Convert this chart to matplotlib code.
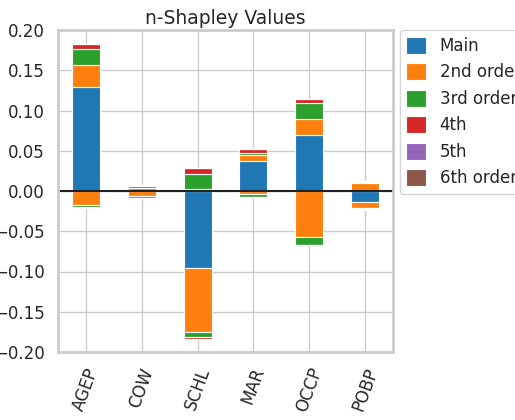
import numpy as np
import matplotlib
matplotlib.use("Agg")
import matplotlib.pyplot as plt
import seaborn as sns

sns.set_theme(style="whitegrid")

features = ["AGEP", "COW", "SCHL", "MAR", "OCCP", "POBP"]
orders = ["Main", "2nd order", "3rd order", "4th", "5th", "6th order"]

# positive and negative parts per order (rows = order, cols = feature)
pos_vals = [
    [0.129, 0.000, 0.000, 0.0375, 0.070, 0.000],
    [0.027, 0.004, 0.002, 0.0075, 0.020, 0.010],
    [0.020, 0.002, 0.019, 0.002, 0.019, 0.001],
    [0.0065, 0.001, 0.0075, 0.005, 0.005, 0.001],
    [0.000, 0.000, 0.000, 0.000, 0.000, 0.000],
    [0.000, 0.000, 0.000, 0.000, 0.000, 0.000],
]
neg_vals = [
    [0.000, 0.000, -0.096, 0.000, 0.000, -0.0135],
    [-0.0175, -0.006, -0.079, -0.004, -0.0575, -0.0075],
    [-0.002, -0.003, -0.0065, -0.004, -0.009, -0.0015],
    [-0.002, 0.000, -0.002, 0.000, 0.000, -0.0015],
    [0.000, 0.000, 0.000, 0.000, 0.000, 0.000],
    [0.000, 0.000, 0.000, 0.000, 0.000, 0.000],
]
colors = ["tab:blue", "tab:orange", "tab:green", "tab:red", "tab:purple", "tab:brown"]

fig = plt.figure(figsize=(5.15, 4.2), dpi=100)
ax = fig.add_axes([58 / 515, 1 - 352 / 420, 335 / 515, 322 / 420])
x = np.arange(len(features))
pos_bottom = np.zeros(len(features))
neg_bottom = np.zeros(len(features))
for name, p, n, c in zip(orders, pos_vals, neg_vals, colors):
    p = np.array(p)
    n = np.array(n)
    ax.bar(x, p, 0.5, bottom=pos_bottom, color=c, edgecolor="white", linewidth=0.8, label=name)
    ax.bar(x, n, 0.5, bottom=neg_bottom, color=c, edgecolor="white", linewidth=0.8)
    pos_bottom += p
    neg_bottom += n

ax.axhline(0, color="#222222", linewidth=1.5)
ax.set_xticks(x)
ax.set_xticklabels(features, rotation=70, fontsize=12)
ax.set_xlim(-0.5, len(features) - 0.5)
ax.set_ylim(-0.2, 0.2)
ax.set_yticks(np.arange(-0.2, 0.201, 0.05))
ax.tick_params(axis="y", labelsize=12)
ax.set_title("n-Shapley Values", fontsize=13.5, pad=4)
for s in ax.spines.values():
    s.set_color("#cccccc")
    s.set_linewidth(2)
ax.legend(loc="upper left", bbox_to_anchor=(1.01, 1.01), fontsize=12,
          handlelength=1.2, handleheight=1.2, borderaxespad=0.2)
fig.savefig("out.png")
